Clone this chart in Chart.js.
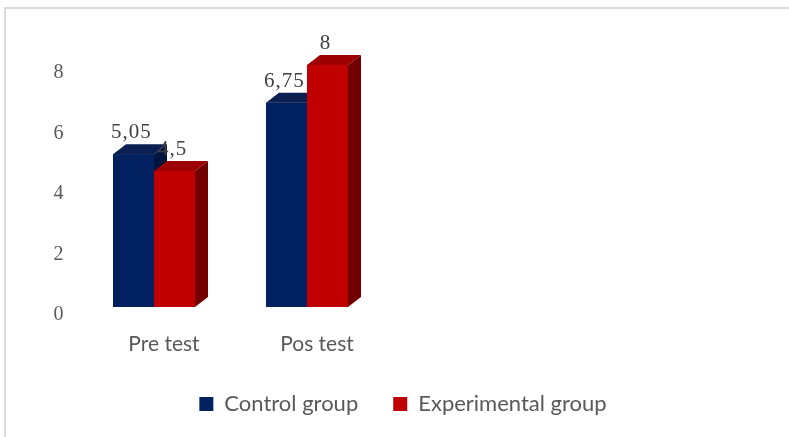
<!DOCTYPE html>
<html>
<head>
<meta charset="utf-8">
<script src="https://cdn.jsdelivr.net/npm/chart.js@4"></script>
<style>
  html, body { margin: 0; padding: 0; background: #fff; overflow: hidden; }
  #wrap { position: relative; width: 789px; height: 437px; }
  #frame { position: absolute; left: 4px; top: 7px; width: 900px; height: 600px;
           border: 2px solid #d9d9d9; pointer-events: none; }
</style>
</head>
<body>
<div id="wrap">
  <canvas id="chart" width="789" height="437"></canvas>
  <div id="frame"></div>
</div>
<script>
// data
const categories = ["Pre test", "Pos test"];
const controlGroup = [5.05, 6.75];
const experimentalGroup = [4.5, 8];
const yTicks = [0, 2, 4, 6, 8];

// 3d look of the bars
const DEPTH_X = 13;
const DEPTH_Y = -10;

const toPoints = arr => arr.map((v, i) => ({ x: i, y: v }));
const fmt = v => String(v).replace(".", ",");

function drawFaces(ctx, bar, ds) {
  const l = bar.x - bar.width / 2;
  const r = bar.x + bar.width / 2;
  const t = bar.y;
  const b = bar.base;
  // top face
  ctx.fillStyle = ds.topColor;
  ctx.beginPath();
  ctx.moveTo(l, t);
  ctx.lineTo(r, t);
  ctx.lineTo(r + DEPTH_X, t + DEPTH_Y);
  ctx.lineTo(l + DEPTH_X, t + DEPTH_Y);
  ctx.closePath();
  ctx.fill();
  // side face
  ctx.fillStyle = ds.sideColor;
  ctx.beginPath();
  ctx.moveTo(r, t);
  ctx.lineTo(r + DEPTH_X, t + DEPTH_Y);
  ctx.lineTo(r + DEPTH_X, b + DEPTH_Y);
  ctx.lineTo(r, b);
  ctx.closePath();
  ctx.fill();
}

const bar3d = {
  id: "bar3d",
  afterDatasetsDraw(chart) {
    const ctx = chart.ctx;
    // chart.js paints the last dataset first; repaint back to front so the
    // experimental bar sits in front of the control bar's side
    chart.data.datasets.forEach((ds, di) => {
      chart.getDatasetMeta(di).data.forEach(bar => {
        bar.draw(ctx);
        ctx.save();
        drawFaces(ctx, bar, ds);
        ctx.restore();
      });
    });

    // value labels above the bars, comma decimals
    ctx.save();
    ctx.font = "21px 'Liberation Serif', 'Times New Roman', serif";
    ctx.letterSpacing = "1px";
    ctx.fillStyle = "#404040";
    ctx.textAlign = "center";
    ctx.textBaseline = "alphabetic";
    chart.data.datasets.forEach((ds, di) => {
      chart.getDatasetMeta(di).data.forEach((bar, i) => {
        ctx.fillText(fmt(ds.data[i].y), bar.x - 2, bar.y - 16);
      });
    });
    ctx.restore();
  }
};

const ctx = document.getElementById("chart").getContext("2d");

new Chart(ctx, {
  type: "bar",
  data: {
    datasets: [
      {
        label: "Control group",
        data: toPoints(controlGroup),
        backgroundColor: "#002060",
        topColor: "#0b1f50",
        sideColor: "#00163f",
        clip: false
      },
      {
        label: "Experimental group",
        data: toPoints(experimentalGroup),
        backgroundColor: "#c00000",
        topColor: "#9c0000",
        sideColor: "#720000",
        clip: false
      }
    ]
  },
  options: {
    responsive: false,
    animation: false,
    events: [],
    categoryPercentage: 0.536,
    barPercentage: 1,
    layout: { padding: { left: 40, right: 23, top: 65, bottom: 12 } },
    scales: {
      x: {
        type: "linear",
        min: -0.5,
        max: 4,
        offset: false,
        grid: { display: false, drawTicks: false },
        border: { display: false },
        afterBuildTicks: s => { s.ticks = categories.map((c, i) => ({ value: i })); },
        afterFit: s => { s.height = 51; },
        ticks: {
          callback: v => categories[v],
          color: "#595959",
          font: { family: "Lato, 'Open Sans', sans-serif", size: 21 },
          padding: 25,
          labelOffset: 10,
          maxRotation: 0,
          autoSkip: false
        }
      },
      y: {
        min: 0,
        max: 8,
        grid: { display: false, drawTicks: false },
        border: { display: false },
        afterBuildTicks: s => { s.ticks = yTicks.map(v => ({ value: v })); },
        afterFit: s => { s.width = 37.5; },
        ticks: {
          color: "#595959",
          font: { family: "'Liberation Serif', 'Times New Roman', serif", size: 20 },
          padding: 14,
          labelOffset: 8
        }
      }
    },
    plugins: {
      legend: {
        position: "bottom",
        labels: {
          boxWidth: 14,
          boxHeight: 14,
          padding: 35,
          color: "#595959",
          font: { family: "Lato, 'Open Sans', sans-serif", size: 22 }
        }
      },
      tooltip: { enabled: false }
    }
  },
  plugins: [bar3d]
});
</script>
</body>
</html>
